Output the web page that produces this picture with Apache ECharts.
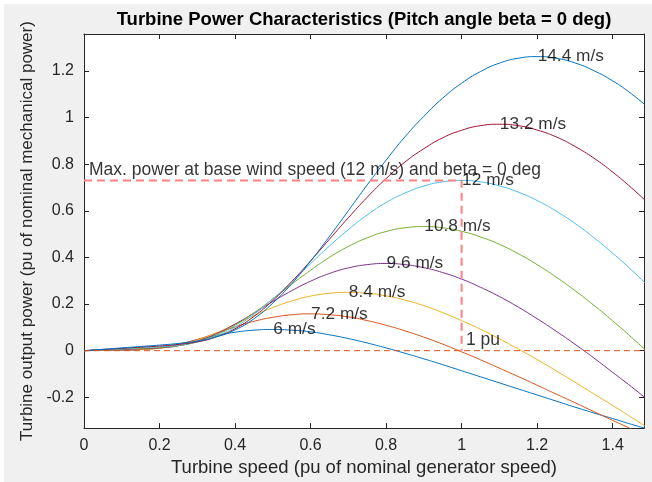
<!DOCTYPE html>
<html>
<head>
<meta charset="utf-8">
<script src="https://cdn.jsdelivr.net/npm/echarts@6.0.0/dist/echarts.min.js"></script>
<style>
html, body { margin: 0; padding: 0; background: #fff; }
#main { width: 652px; height: 482px; }
</style>
</head>
<body>
<div id="main"></div>
<script>
// turbine speed (pu), sampled every 0.05
var speeds = [0, 0.05, 0.1, 0.15, 0.2, 0.25, 0.3, 0.35, 0.4, 0.45, 0.5, 0.55, 0.6, 0.65, 0.7, 0.75,
    0.8, 0.85, 0.9, 0.95, 1.0, 1.05, 1.1, 1.15, 1.2, 1.25, 1.3, 1.35, 1.4, 1.45, 1.5];

// output power (pu) per wind speed
var p6   = [0, 0.001, 0.002, 0.005, 0.013, 0.028, 0.047, 0.065, 0.079, 0.088, 0.091, 0.088, 0.081, 0.068, 0.052, 0.033,
    0.012, -0.011, -0.035, -0.060, -0.086, -0.112, -0.138, -0.164, -0.190, -0.216, -0.242, -0.267, -0.291, -0.316, -0.339];
var p72  = [0, 0.002, 0.003, 0.005, 0.011, 0.026, 0.048, 0.075, 0.102, 0.126, 0.143, 0.154, 0.158, 0.154, 0.145, 0.129,
    0.109, 0.085, 0.058, 0.028, -0.005, -0.039, -0.075, -0.111, -0.148, -0.186, -0.223, -0.261, -0.299, -0.336, -0.374];
var p84  = [0, 0.002, 0.004, 0.006, 0.011, 0.023, 0.045, 0.076, 0.113, 0.150, 0.185, 0.213, 0.234, 0.246, 0.250, 0.246,
    0.235, 0.217, 0.193, 0.163, 0.129, 0.092, 0.051, 0.007, -0.038, -0.086, -0.135, -0.185, -0.235, -0.286, -0.338];
var p96  = [0, 0.003, 0.005, 0.008, 0.012, 0.021, 0.041, 0.072, 0.114, 0.161, 0.211, 0.257, 0.298, 0.331, 0.355, 0.369,
    0.374, 0.369, 0.356, 0.335, 0.307, 0.272, 0.232, 0.187, 0.137, 0.084, 0.028, -0.031, -0.093, -0.155, -0.220];
var p108 = [0, 0.003, 0.007, 0.010, 0.014, 0.022, 0.038, 0.067, 0.109, 0.162, 0.222, 0.285, 0.345, 0.400, 0.447, 0.484,
    0.511, 0.527, 0.532, 0.527, 0.512, 0.488, 0.456, 0.416, 0.369, 0.316, 0.258, 0.195, 0.128, 0.057, -0.016];
var p12  = [0, 0.004, 0.008, 0.013, 0.017, 0.024, 0.037, 0.062, 0.101, 0.156, 0.222, 0.296, 0.373, 0.449, 0.519, 0.582,
    0.635, 0.676, 0.706, 0.724, 0.730, 0.724, 0.707, 0.680, 0.644, 0.599, 0.546, 0.485, 0.418, 0.346, 0.268];
var p132 = [0, 0.005, 0.010, 0.015, 0.020, 0.027, 0.038, 0.059, 0.094, 0.147, 0.215, 0.296, 0.385, 0.478, 0.570, 0.658,
    0.738, 0.809, 0.866, 0.913, 0.945, 0.965, 0.971, 0.965, 0.946, 0.917, 0.876, 0.826, 0.766, 0.698, 0.623];
var p144 = [0, 0.006, 0.012, 0.018, 0.024, 0.031, 0.041, 0.059, 0.089, 0.137, 0.204, 0.287, 0.384, 0.490, 0.600, 0.711,
    0.817, 0.917, 1.005, 1.083, 1.147, 1.197, 1.233, 1.254, 1.261, 1.254, 1.234, 1.201, 1.157, 1.101, 1.035];

var curves = [p6, p72, p84, p96, p108, p12, p132, p144];
var windNames = ['6 m/s', '7.2 m/s', '8.4 m/s', '9.6 m/s', '10.8 m/s', '12 m/s', '13.2 m/s', '14.4 m/s'];
var colors = ['#0072BD', '#D95319', '#EDB120', '#7E2F8E', '#77AC30', '#4DBEEE', '#A2142F', '#0072BD'];

// curve label anchors (at each peak)
var peakX = [0.5, 0.6, 0.7, 0.8, 0.9, 1.0, 1.1, 1.2];
var peakY = [0.091, 0.158, 0.250, 0.374, 0.532, 0.73, 0.971, 1.261];

// reference lines and notes
var basePower = [[0, 0.73], [1, 0.73], [1, 0]];
var zeroLine = [[0, 0], [1.5, 0]];
var notes = [[0.012, 0.774, 'Max. power at base wind speed (12 m/s) and beta = 0 deg'], [1.01, 0.043, '1 pu']];

var xTicks = [0, 0.2, 0.4, 0.6, 0.8, 1, 1.2, 1.4];
var yTicks = [-0.2, 0, 0.2, 0.4, 0.6, 0.8, 1, 1.2];
var xMin = 0, xMax = 1.483, yMin = -0.332, yMax = 1.358;

var font = "'Liberation Sans', Arial, Helvetica, sans-serif";
var ink = '#262626';

function xAxis(pos, main) {
    return {
        type: 'value', position: pos, min: xMin, max: xMax,
        axisLine: { onZero: false, lineStyle: { color: ink, width: 1 } },
        axisTick: { inside: true, length: 5, customValues: xTicks, lineStyle: { color: ink } },
        axisLabel: { show: main, customValues: xTicks, color: ink, fontSize: 16, fontFamily: font, margin: 9 },
        splitLine: { show: false },
        name: main ? 'Turbine speed (pu of nominal generator speed)' : '',
        nameLocation: 'middle', nameGap: 27,
        nameTextStyle: { color: ink, fontSize: 18.5, fontFamily: font }
    };
}
function yAxis(pos, main) {
    return {
        type: 'value', position: pos, min: yMin, max: yMax,
        axisLine: { onZero: false, lineStyle: { color: ink, width: 1 } },
        axisTick: { inside: true, length: 5, customValues: yTicks, lineStyle: { color: ink } },
        axisLabel: { show: main, customValues: yTicks, color: ink, fontSize: 16, fontFamily: font, margin: 10 },
        splitLine: { show: false },
        name: main ? 'Turbine output power (pu of nominal mechanical power)' : '',
        nameLocation: 'middle', nameGap: 43,
        nameTextStyle: { color: ink, fontSize: 17, fontFamily: font }
    };
}

var series = [];
curves.forEach(function (c, k) {
    series.push({
        type: 'line', name: windNames[k], smooth: true, symbol: 'none',
        lineStyle: { color: colors[k], width: 1 },
        data: speeds.map(function (x, i) { return [x, c[i]]; }),
        z: 2
    });
});
series.push({
    type: 'line', symbol: 'none', data: zeroLine,
    lineStyle: { color: '#D95319', width: 1, type: [6, 4] }, z: 3
});
series.push({
    type: 'line', symbol: 'none', data: basePower,
    lineStyle: { color: '#FF8080', width: 2, type: [8, 5] }, z: 4
});
function textLabel(size) {
    return {
        show: true, position: 'right', distance: 0,
        color: '#000', fontSize: size, fontFamily: font,
        formatter: function (p) { return p.value[2]; }
    };
}
series.push({
    type: 'scatter', symbolSize: 1, itemStyle: { color: 'rgba(0,0,0,0)' },
    label: textLabel(17.3), z: 5,
    data: peakX.map(function (x, i) { return [x, peakY[i], windNames[i]]; })
});
series.push({
    type: 'scatter', symbolSize: 1, itemStyle: { color: 'rgba(0,0,0,0)' },
    label: textLabel(17.5), z: 5,
    data: notes
});

var chart = echarts.init(document.getElementById('main'));
chart.setOption({
    backgroundColor: '#f0f0f0',
    animation: false,
    grid: { left: 84, right: 8, top: 34, bottom: 51, show: true, backgroundColor: '#fff', borderWidth: 0 },
    xAxis: [xAxis('bottom', true), xAxis('top', false)],
    yAxis: [yAxis('left', true), yAxis('right', false)],
    graphic: [
        { type: 'rect', left: 0, top: 0, shape: { width: 652, height: 4 }, style: { fill: '#fff' } },
        { type: 'rect', left: 0, top: 0, shape: { width: 4, height: 482 }, style: { fill: '#fff' } },
        { type: 'text', x: 364, y: 20, style: {
            text: 'Turbine Power Characteristics (Pitch angle beta = 0 deg)',
            align: 'center', verticalAlign: 'middle',
            font: 'bold 18.5px ' + font, fill: '#000' } }
    ],
    series: series
});
</script>
</body>
</html>
